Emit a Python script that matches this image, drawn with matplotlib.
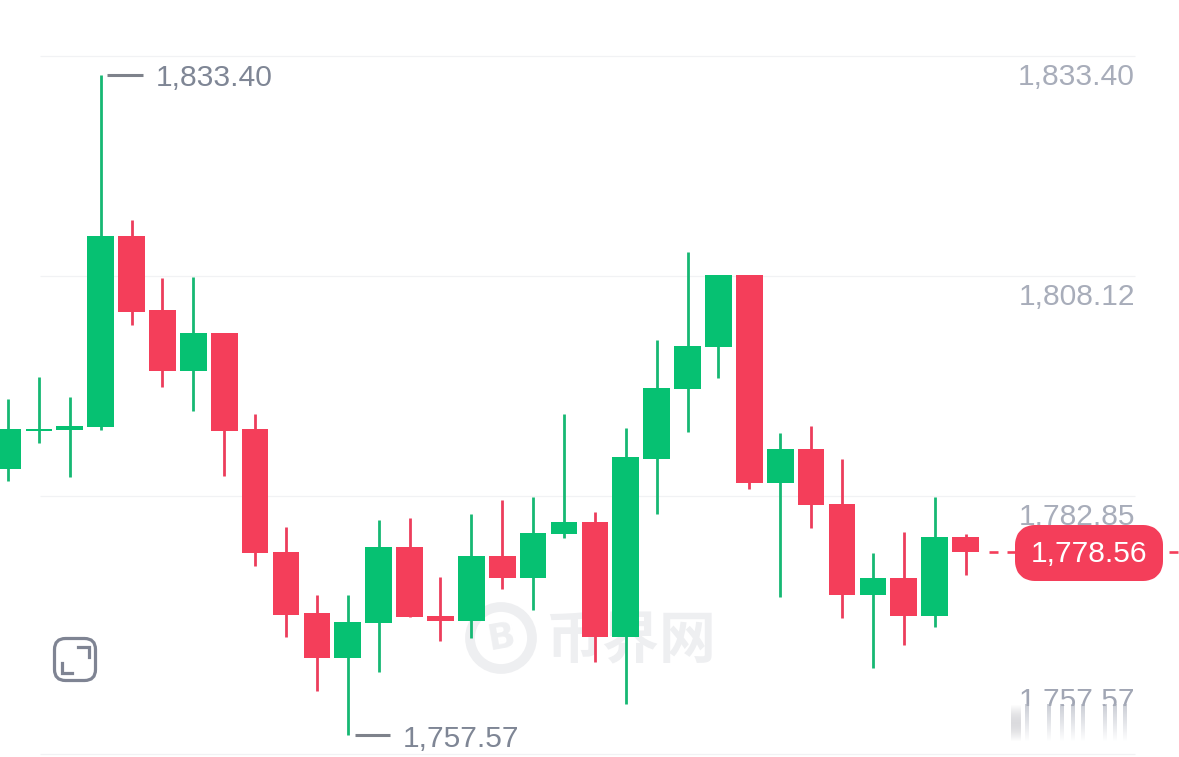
import numpy as np
import matplotlib
matplotlib.use("Agg")
import matplotlib.pyplot as plt
from matplotlib.patches import FancyBboxPatch, Circle, Rectangle

plt.rcParams["font.family"] = ["Liberation Sans", "DejaVu Sans"]
plt.rcParams["lines.scale_dashes"] = False

W, H = 1179, 757
UP, DOWN = "#06C172", "#F43E5A"
UP_WICK, DOWN_WICK = "#16B873", "#EC3D5C"

opens = [1788.13, 1792.55, 1792.61, 1792.92, 1814.94, 1806.36, 1799.42, 1803.79,
         1792.69, 1778.59, 1771.55, 1766.41, 1770.43, 1779.13, 1771.24, 1770.63,
         1778.17, 1775.64, 1780.63, 1782.01, 1768.86, 1789.31, 1797.36, 1802.11,
         1810.42, 1786.49, 1790.46, 1784.14, 1773.69, 1775.57, 1771.27, 1780.32]
highs = [1796.17, 1798.73, 1796.37, 1833.40, 1816.74, 1810.04, 1810.16, 1803.79,
         1794.41, 1781.47, 1773.62, 1773.62, 1782.30, 1782.50, 1775.72, 1782.96,
         1784.57, 1784.91, 1794.48, 1783.19, 1792.81, 1802.95, 1813.10, 1810.42,
         1810.42, 1792.30, 1793.04, 1789.31, 1778.48, 1780.89, 1784.91, 1780.63]
lows = [1786.75, 1791.15, 1787.24, 1792.61, 1804.64, 1797.52, 1794.83, 1787.33,
        1776.98, 1768.79, 1762.62, 1757.57, 1764.80, 1771.09, 1768.33, 1768.75,
        1774.31, 1771.96, 1780.24, 1765.99, 1761.16, 1782.96, 1792.42, 1798.55,
        1785.87, 1773.46, 1781.39, 1771.01, 1765.30, 1767.94, 1769.98, 1775.95]
closes = [1792.69, 1792.78, 1793.07, 1814.94, 1806.17, 1799.42, 1803.79, 1792.53,
          1778.44, 1771.39, 1766.41, 1770.58, 1779.13, 1771.09, 1770.63, 1778.17,
          1775.64, 1780.78, 1782.01, 1768.86, 1789.47, 1797.47, 1802.23, 1810.42,
          1786.49, 1790.46, 1783.99, 1773.69, 1775.57, 1771.27, 1780.32, 1778.56]

grid_levels = [1835.58, 1810.31, 1785.03, 1755.39]
axis_labels = ["1,833.40", "1,808.12", "1,782.85"]
axis_label_prices = [1833.40, 1808.12, 1782.85]
bottom_label = "1,757.57"
high_label = "1,833.40"
low_label = "1,757.57"
last_label = "1,778.56"

# pixel scale of the candle area
PX_PER_BAR = 30.89
PX_PER_UNIT = 660 / (1833.40 - 1757.57)
FIRST_X = 8.0
FS = 21.6

fig = plt.figure(figsize=(W / 100, H / 100), dpi=100, facecolor="white")

# three stacked layers: watermark, candles, overlay widgets
back = fig.add_axes([0, 0, 1, 1], zorder=0)
ax = fig.add_axes([0, 0, 1, 1], zorder=1)
top = fig.add_axes([0, 0, 1, 1], zorder=2)
for a in (back, top):
    a.set_xlim(0, W)
    a.set_ylim(H, 0)
for a in (back, ax, top):
    a.axis("off")
    a.patch.set_alpha(0)

ax.set_xlim(-FIRST_X / PX_PER_BAR, (W - FIRST_X) / PX_PER_BAR)
ax.set_ylim(1833.40 - (H - 75) / PX_PER_UNIT, 1833.40 + 75 / PX_PER_UNIT)


def px_x(v):
    return (v - FIRST_X) / PX_PER_BAR


def price_text(xpx, price, s, drop_px, **kw):
    # text anchored on a price, nudged down so the digits sit centred on it
    ax.annotate(s, (px_x(xpx), price), xytext=(0, -drop_px * 0.72), textcoords="offset points",
                fontsize=FS, va="center", **kw)


# gridlines
ax.hlines(grid_levels, px_x(40), px_x(1135), color="#F1F2F4", lw=0.9, zorder=1)

# watermark
wm = "#EEEFF1"
back.add_patch(Circle((501, 638), 31, fill=False, ec=wm, lw=7))
back.text(501, 638, "B", family="DejaVu Sans", weight="bold", fontsize=26,
          color=wm, ha="center", va="center", rotation=10)
back.text(631, 640, "币界网", family="Noto Sans CJK SC", weight="bold", fontsize=41, color=wm,
          ha="center", va="center")

# candles
for i, (o, h, l, c) in enumerate(zip(opens, highs, lows, closes)):
    up = c >= o
    ax.vlines(i, l, h, color=UP_WICK if up else DOWN_WICK, lw=2.0, zorder=2)
    ax.bar(i, abs(c - o), bottom=min(o, c), width=26.7 / PX_PER_BAR,
           color=UP if up else DOWN, lw=0, zorder=3)

# dashed line at the last close
ax.plot([px_x(980), px_x(1179)], [closes[-1], closes[-1]], color=DOWN, lw=1.9,
        linestyle=(6.48, (6.48, 6.48)), dash_capstyle="butt", zorder=2)

# price labels on the right
for lab, p in zip(axis_labels, axis_label_prices):
    price_text(1135, p, lab, 2, color="#A8ADBA", ha="right", zorder=2)

# high / low callouts
hi_i, lo_i = int(np.argmax(highs)), int(np.argmin(lows))
ax.plot([px_x(107), px_x(143)], [highs[hi_i]] * 2, color="#7E828B", lw=2.2, solid_capstyle="butt")
price_text(156, highs[hi_i], high_label, 3, color="#7F8695", ha="left")
ax.plot([px_x(355), px_x(390)], [lows[lo_i]] * 2, color="#7E828B", lw=2.2, solid_capstyle="butt")
price_text(403, lows[lo_i], low_label, 3.5, color="#7F8695", ha="left")

# current price badge
top.add_patch(FancyBboxPatch((1025, 535), 128, 36, boxstyle="round,pad=0,rounding_size=10",
                             mutation_aspect=1, fc=DOWN, ec=DOWN, lw=14.4, joinstyle="round"))
top.text(1089, 554, last_label, color="white", fontsize=FS, ha="center", va="center")

# expand icon
top.add_patch(FancyBboxPatch((54.5, 638.5), 41, 42, boxstyle="round,pad=0,rounding_size=11",
                             fc="none", ec="#7F8493", lw=2.3))
top.plot([78, 89.3, 89.3], [646.7, 646.7, 657], color="#7F8493", lw=2.3, solid_joinstyle="miter")
top.plot([61.7, 61.7, 72.3], [663.3, 673.3, 673.3], color="#7F8493", lw=2.3, solid_joinstyle="miter")

# bottom axis label, smeared out below its upper half
top.text(1135, 701, bottom_label, color="#A1A6B4", fontsize=FS, ha="right", va="center", zorder=1)
top.add_patch(Rectangle((1005, 706), 140, 44, fc="white", ec="none", zorder=2))
fade = np.linspace(0, 1, 32)[:, None]
streak_x = [1027, 1049, 1062, 1073, 1083, 1105, 1115, 1125]
for sx in streak_x:
    rgba = np.zeros((32, 1, 4))
    rgba[..., :3] = [0.66, 0.68, 0.73]
    rgba[..., 3] = (0.6 * (1 - fade)).ravel()[:, None]
    top.imshow(rgba, extent=(sx - 2, sx + 2, 742, 704), aspect="auto", zorder=3,
               interpolation="bilinear")
soft = np.zeros((32, 1, 4))
soft[..., :3] = [0.75, 0.75, 0.77]
soft[..., 3] = (0.55 * np.sin(fade * np.pi)).ravel()[:, None]
top.imshow(soft, extent=(1011, 1021, 742, 704), aspect="auto", zorder=3, interpolation="bilinear")
top.set_xlim(0, W)
top.set_ylim(H, 0)

fig.savefig("out.png", dpi=100, facecolor="white")
